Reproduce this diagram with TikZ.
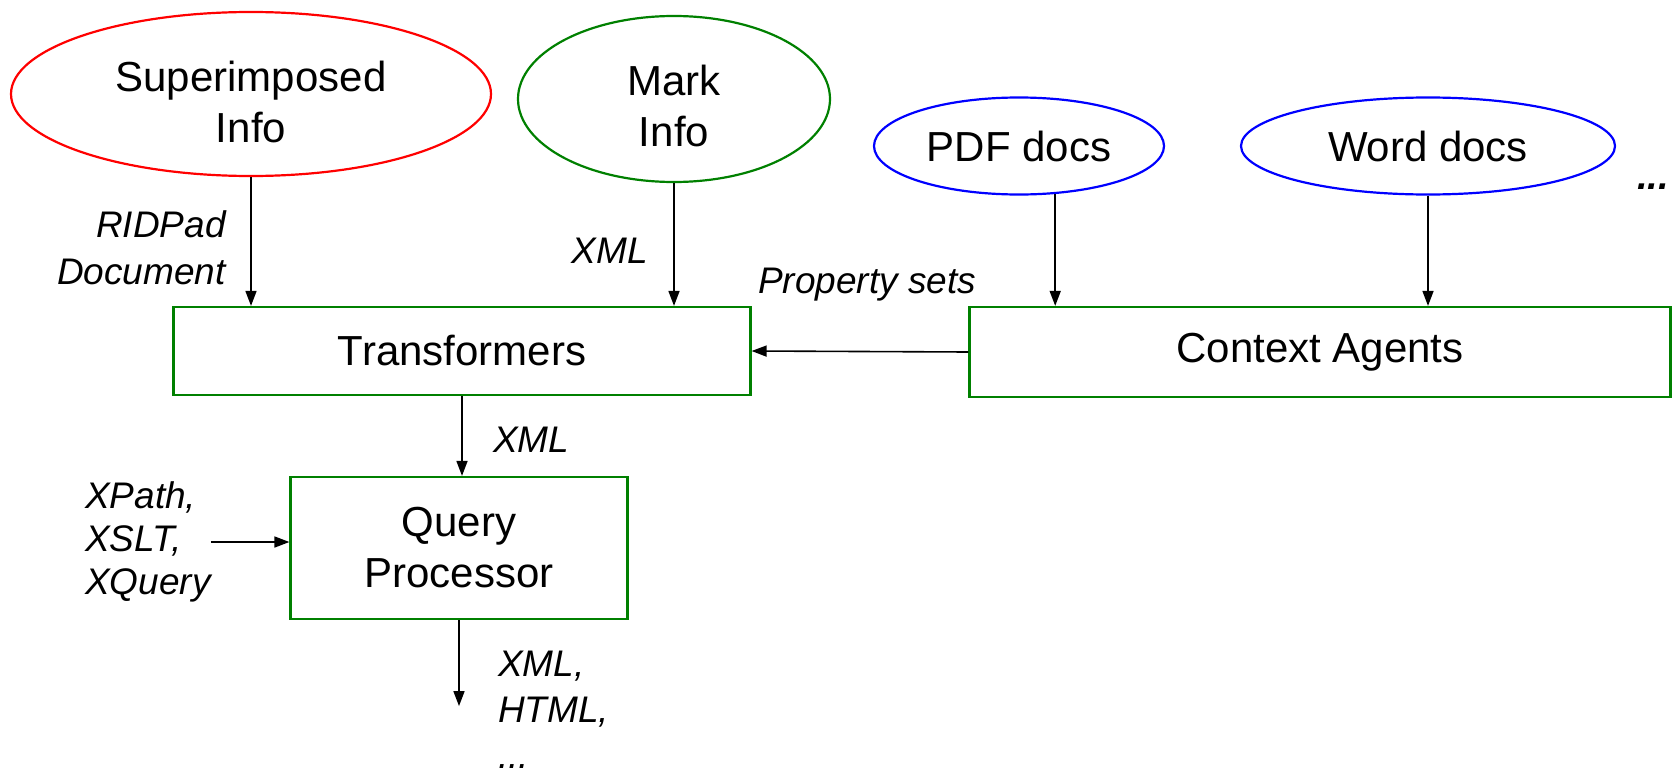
\documentclass[tikz,border=0pt]{standalone}
\usepackage{fontspec}
\setmainfont{Liberation Sans}
\usetikzlibrary{shapes.geometric, arrows.meta, positioning, calc}
\definecolor{srcred}{RGB}{255,0,0}
\definecolor{srcgreen}{RGB}{0,128,0}
\definecolor{srcblue}{RGB}{0,0,255}

\begin{document}
\begin{tikzpicture}[
    x=1pt, y=1pt,
    src/.style={ellipse, draw, line width=2.2pt, inner sep=0pt, align=center, font=\fontsize{42}{51}\selectfont},
    box/.style={draw=srcgreen, line width=2.2pt, inner sep=0pt, align=center, font=\fontsize{42}{51}\selectfont},
    arrow/.style={-{Triangle[length=15pt,width=11pt]}, line width=1.6pt},
    lbl/.style={font=\fontsize{37}{47}\selectfont\itshape, inner sep=0pt}
]
    \useasboundingbox (0,0) rectangle (1675,-768);
    % sources
    \node[src, draw=srcred, text height=97pt, minimum width=480pt, minimum height=164pt] (sup) at (251,-94) {Superimposed\\Info};
    \node[src, draw=srcgreen, text height=96pt, minimum width=312pt, minimum height=166pt] (mark) at (674,-99) {Mark\\Info};
    \node[src, draw=srcblue, minimum width=290pt, minimum height=97pt] (pdf) at (1019,-146) {PDF docs};
    \node[src, draw=srcblue, minimum width=374pt, minimum height=97pt] (word) at (1428,-146) {Word docs};
    \node[lbl, font=\fontsize{38}{47}\selectfont\itshape\bfseries] (more) at (1653,-187) {...};
    % processing boxes
    \node[box, minimum width=577pt, minimum height=88pt] (trans) at (462,-351) {Transformers};
    \node[box, minimum width=701pt, minimum height=90pt] (ctx) at (1320,-352) {Context Agents};
    \node[box, minimum width=337pt, minimum height=142pt] (query) at (459,-548) {Query\\Processor};
    \coordinate[below=86pt of query.south] (out);
    % connectors
    \draw[arrow] (sup.south) -- (sup.south |- trans.north);
    \draw[arrow] (mark.south) -- (mark.south |- trans.north);
    \draw[arrow] (pdf.-53) -- (pdf.-53 |- ctx.north);
    \draw[arrow] (word.south) -- (word.south |- ctx.north);
    \draw[arrow] (ctx.west) -- (trans.east);
    \draw[arrow] (trans.south) -- (trans.south |- query.north);
    \draw[arrow] (query.south) -- (out);
    % labels
    \node[lbl, align=right, anchor=east] at (226,-248) {RIDPad\\Document};
    \node[lbl, anchor=east] at (648,-251) {XML};
    \node[lbl, anchor=west] at (758,-285) {Property sets};
    \node[lbl, anchor=west] at (493,-440) {XML};
    \node[lbl, align=left, anchor=west, font=\fontsize{37}{43}\selectfont\itshape] (xp) at (85,-542) {XPath,\\XSLT,\\XQuery};
    \draw[arrow] (xp.east) -- (xp.east -| query.west);
    \node[lbl, align=left, anchor=west, font=\fontsize{37}{46}\selectfont\itshape] at (498,-710) {XML,\\HTML,\\...};
\end{tikzpicture}
\end{document}
